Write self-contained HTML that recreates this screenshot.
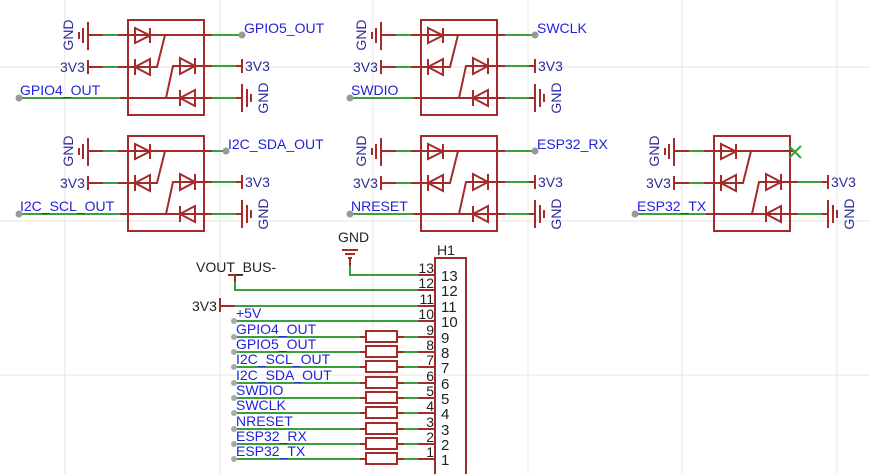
<!DOCTYPE html>
<html><head><style>
body{margin:0;background:#fff;}
svg{display:block;}
text{font-family:"Liberation Sans",sans-serif;}
</style></head><body>
<svg width="870" height="474" viewBox="0 0 870 474" xmlns="http://www.w3.org/2000/svg">
<g stroke="#e6e6e6" stroke-width="1">
<line x1="65" y1="0" x2="65" y2="474"/><line x1="220" y1="0" x2="220" y2="474"/><line x1="373" y1="0" x2="373" y2="474"/><line x1="528" y1="0" x2="528" y2="474"/><line x1="682" y1="0" x2="682" y2="474"/><line x1="837" y1="0" x2="837" y2="474"/>
<line x1="0" y1="67" x2="870" y2="67"/><line x1="0" y1="221" x2="870" y2="221"/><line x1="0" y1="375" x2="870" y2="375"/>
</g>
<defs>
<g id="chip">
 <g stroke="#a52a2a" stroke-width="2" fill="none">
  <line x1="88" y1="22" x2="88" y2="50"/><line x1="83" y1="28" x2="83" y2="43"/><line x1="79" y1="32" x2="79" y2="39"/>
  <line x1="88" y1="35" x2="204" y2="35"/>
  <line x1="88" y1="60" x2="88" y2="74"/>
  <line x1="88" y1="67" x2="150" y2="67"/>
  <polyline points="150,67 157,67 165,35"/>
  <polyline points="166,98 173,66 242,66"/>
  <line x1="128" y1="98" x2="242" y2="98"/>
  <line x1="242" y1="59" x2="242" y2="73"/>
  <line x1="242" y1="84" x2="242" y2="112"/><line x1="247" y1="89" x2="247" y2="107"/><line x1="251" y1="94" x2="251" y2="102"/>
  <rect x="128" y="20" width="76" height="95"/>
  <polygon points="135,28 135,43 150,35.5"/><line x1="150" y1="28" x2="150" y2="43"/>
  <polygon points="150,59 150,75 135,67"/><line x1="135" y1="59" x2="135" y2="75"/>
  <polygon points="180,58 180,74 195,66"/><line x1="195" y1="58" x2="195" y2="74"/>
  <polygon points="195,90 195,106 180,98"/><line x1="180" y1="90" x2="180" y2="106"/>
 </g>
 <g stroke="#3aa03a" stroke-width="2">
  <line x1="103" y1="35" x2="118" y2="35"/><line x1="103" y1="67" x2="118" y2="67"/>
  <line x1="212" y1="66" x2="236" y2="66"/><line x1="212" y1="98" x2="236" y2="98"/>
 </g>
 <g fill="#2b2b9a" font-size="14">
  <text transform="translate(73,35) rotate(-90)" text-anchor="middle">GND</text>
  <text x="60" y="72">3V3</text>
  <text x="245" y="71">3V3</text>
  <text transform="translate(268,98) rotate(-90)" text-anchor="middle">GND</text>
 </g>
</g>
</defs>
<use href="#chip"/>
<use href="#chip" x="293"/>
<use href="#chip" y="116"/>
<use href="#chip" x="293" y="116"/>
<use href="#chip" x="586" y="116"/>
<g stroke-width="2">
 <g stroke="#a52a2a"><line x1="204" y1="35" x2="212" y2="35"/><line x1="497" y1="35" x2="505" y2="35"/><line x1="204" y1="151" x2="212" y2="151"/><line x1="497" y1="151" x2="505" y2="151"/><line x1="790" y1="151" x2="796" y2="151"/></g>
 <g stroke="#3aa03a"><line x1="212" y1="35" x2="242" y2="35"/><line x1="505" y1="35" x2="535" y2="35"/><line x1="212" y1="151" x2="226" y2="151"/><line x1="505" y1="151" x2="535" y2="151"/>
 <line x1="20" y1="98" x2="120" y2="98"/><line x1="350" y1="98" x2="413" y2="98"/><line x1="20" y1="214" x2="120" y2="214"/><line x1="350" y1="214" x2="413" y2="214"/><line x1="636" y1="214" x2="706" y2="214"/>
 <line x1="789" y1="146" x2="801" y2="158"/><line x1="801" y1="146" x2="789" y2="158"/></g>
 <g stroke="#a52a2a"><line x1="120" y1="98" x2="128" y2="98"/><line x1="413" y1="98" x2="421" y2="98"/><line x1="120" y1="214" x2="128" y2="214"/><line x1="413" y1="214" x2="421" y2="214"/><line x1="706" y1="214" x2="714" y2="214"/></g>
</g>
<g fill="#999"><circle cx="242" cy="35" r="3.5"/><circle cx="535" cy="35" r="3.5"/><circle cx="226" cy="151" r="3.5"/><circle cx="535" cy="151" r="3.5"/>
<circle cx="19" cy="98" r="3.5"/><circle cx="350" cy="98" r="3.5"/><circle cx="19" cy="214" r="3.5"/><circle cx="350" cy="214" r="3.5"/><circle cx="635" cy="214" r="3.5"/></g>
<g fill="#2222dd" font-size="14">
<text x="244" y="33">GPIO5_OUT</text><text x="20" y="95">GPIO4_OUT</text>
<text x="537" y="33">SWCLK</text><text x="351" y="95">SWDIO</text>
<text x="228" y="149">I2C_SDA_OUT</text><text x="20" y="211">I2C_SCL_OUT</text>
<text x="537" y="149">ESP32_RX</text><text x="351" y="211">NRESET</text>
<text x="637" y="211">ESP32_TX</text>
</g>
<g stroke="#a52a2a" stroke-width="2" fill="none">
 <rect x="435" y="258" width="31" height="220"/>
 <line x1="342" y1="250" x2="358" y2="250"/><line x1="345" y1="254" x2="355" y2="254"/><line x1="348" y1="258" x2="352" y2="258"/>
 <line x1="228" y1="275" x2="243" y2="275"/>
 <line x1="220" y1="298" x2="220" y2="312"/><line x1="220" y1="306" x2="235" y2="306"/>
</g>
<g stroke="#3aa03a" stroke-width="2" fill="none">
 <polyline points="350,260 350,275 418,275"/>
 <polyline points="235,275 235,290 418,290"/>
 <line x1="235" y1="306" x2="418" y2="306"/>
 <line x1="234" y1="321" x2="418" y2="321"/>
</g>
<g stroke="#a52a2a" stroke-width="2"><line x1="350" y1="258" x2="350" y2="266"/><line x1="235" y1="275" x2="235" y2="282"/></g>
<g stroke-width="2" fill="none">
<g stroke="#a52a2a">
<line x1="418" y1="275" x2="435" y2="275"/><line x1="418" y1="290" x2="435" y2="290"/><line x1="418" y1="306" x2="435" y2="306"/><line x1="418" y1="321" x2="435" y2="321"/>
</g>
</g>
<g>
<g stroke-width="2" fill="none">
<g stroke="#3aa03a">
<line x1="234" y1="337" x2="360" y2="337"/><line x1="404" y1="337" x2="418" y2="337"/>
<line x1="234" y1="352" x2="360" y2="352"/><line x1="404" y1="352" x2="418" y2="352"/>
<line x1="234" y1="367" x2="360" y2="367"/><line x1="404" y1="367" x2="418" y2="367"/>
<line x1="234" y1="383" x2="360" y2="383"/><line x1="404" y1="383" x2="418" y2="383"/>
<line x1="234" y1="398" x2="360" y2="398"/><line x1="404" y1="398" x2="418" y2="398"/>
<line x1="234" y1="413" x2="360" y2="413"/><line x1="404" y1="413" x2="418" y2="413"/>
<line x1="234" y1="429" x2="360" y2="429"/><line x1="404" y1="429" x2="418" y2="429"/>
<line x1="234" y1="444" x2="360" y2="444"/><line x1="404" y1="444" x2="418" y2="444"/>
<line x1="234" y1="459" x2="360" y2="459"/><line x1="404" y1="459" x2="418" y2="459"/>
</g>
<g stroke="#a52a2a">
<line x1="360" y1="337" x2="404" y2="337"/><line x1="418" y1="337" x2="435" y2="337"/><rect x="366" y="331" width="31" height="11" fill="#fff"/>
<line x1="360" y1="352" x2="404" y2="352"/><line x1="418" y1="352" x2="435" y2="352"/><rect x="366" y="346" width="31" height="11" fill="#fff"/>
<line x1="360" y1="367" x2="404" y2="367"/><line x1="418" y1="367" x2="435" y2="367"/><rect x="366" y="361" width="31" height="11" fill="#fff"/>
<line x1="360" y1="383" x2="404" y2="383"/><line x1="418" y1="383" x2="435" y2="383"/><rect x="366" y="377" width="31" height="11" fill="#fff"/>
<line x1="360" y1="398" x2="404" y2="398"/><line x1="418" y1="398" x2="435" y2="398"/><rect x="366" y="392" width="31" height="11" fill="#fff"/>
<line x1="360" y1="413" x2="404" y2="413"/><line x1="418" y1="413" x2="435" y2="413"/><rect x="366" y="407" width="31" height="11" fill="#fff"/>
<line x1="360" y1="429" x2="404" y2="429"/><line x1="418" y1="429" x2="435" y2="429"/><rect x="366" y="423" width="31" height="11" fill="#fff"/>
<line x1="360" y1="444" x2="404" y2="444"/><line x1="418" y1="444" x2="435" y2="444"/><rect x="366" y="438" width="31" height="11" fill="#fff"/>
<line x1="360" y1="459" x2="404" y2="459"/><line x1="418" y1="459" x2="435" y2="459"/><rect x="366" y="453" width="31" height="11" fill="#fff"/>
</g>
</g>
<g fill="#aaa">
<circle cx="234" cy="321" r="3"/><circle cx="234" cy="337" r="3"/><circle cx="234" cy="352" r="3"/><circle cx="234" cy="367" r="3"/><circle cx="234" cy="383" r="3"/><circle cx="234" cy="398" r="3"/><circle cx="234" cy="413" r="3"/><circle cx="234" cy="429" r="3"/><circle cx="234" cy="444" r="3"/><circle cx="234" cy="459" r="3"/>
</g>
</g>
<g fill="#2222dd" font-size="14">
<text x="236" y="318">+5V</text>
<text x="236" y="334">GPIO4_OUT</text>
<text x="236" y="349">GPIO5_OUT</text>
<text x="236" y="364">I2C_SCL_OUT</text>
<text x="236" y="380">I2C_SDA_OUT</text>
<text x="236" y="395">SWDIO</text>
<text x="236" y="410">SWCLK</text>
<text x="236" y="426">NRESET</text>
<text x="236" y="441">ESP32_RX</text>
<text x="236" y="456">ESP32_TX</text>
</g>
<g fill="#222" font-size="14">
<text x="338" y="242">GND</text>
<text x="196" y="272">VOUT_BUS-</text>
<text x="192" y="311">3V3</text>
<text x="437" y="255">H1</text>
</g>
<g fill="#222" font-size="14" text-anchor="end">
<text x="434" y="273">13</text><text x="434" y="288">12</text><text x="434" y="304">11</text><text x="434" y="319">10</text>
<text x="434" y="335">9</text><text x="434" y="350">8</text><text x="434" y="365">7</text><text x="434" y="381">6</text><text x="434" y="396">5</text><text x="434" y="411">4</text><text x="434" y="427">3</text><text x="434" y="442">2</text><text x="434" y="457">1</text>
</g>
<g fill="#222" font-size="15">
<text x="441" y="281">13</text><text x="441" y="296">12</text><text x="441" y="312">11</text><text x="441" y="327">10</text>
<text x="441" y="343">9</text><text x="441" y="358">8</text><text x="441" y="373">7</text><text x="441" y="389">6</text><text x="441" y="404">5</text><text x="441" y="419">4</text><text x="441" y="435">3</text><text x="441" y="450">2</text><text x="441" y="465">1</text>
</g>
</svg>
</body></html>
